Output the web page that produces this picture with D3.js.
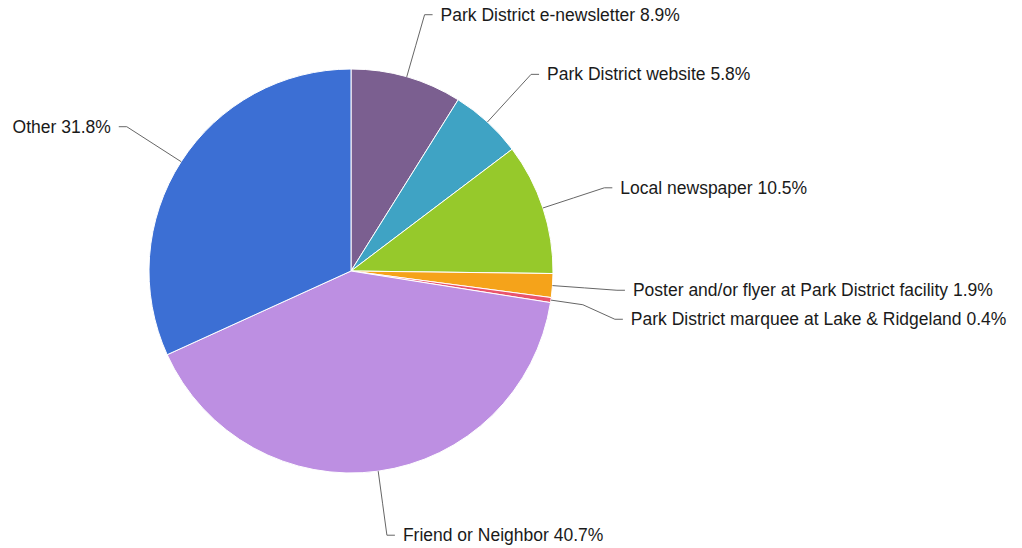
<!DOCTYPE html>
<html>
<head>
<meta charset="utf-8">
<style>
  body { margin: 0; background: #fff; }
  text { font-family: "Liberation Sans", Arial, Helvetica, sans-serif; }
</style>
</head>
<body>
<svg width="1022" height="548"></svg>
<script src="https://d3js.org/d3.v7.min.js"></script>
<script>
// data
const categories = [
  "Park District e-newsletter",
  "Park District website",
  "Local newspaper",
  "Poster and/or flyer at Park District facility",
  "Park District marquee at Lake & Ridgeland",
  "Friend or Neighbor",
  "Other"
];
const shares = [8.9, 5.8, 10.5, 1.9, 0.4, 40.7, 31.8];
const colors = ["#7b5f90", "#3fa3c4", "#96c92b", "#f5a31a", "#e9546c", "#bd8fe2", "#3c6fd4"];

const svg = d3.select("svg"),
    cx = 351, cy = 271, r = 202;

const data = categories.map((c, i) => ({name: c, value: shares[i], color: colors[i]}));

const pie = d3.pie().sort(null).value(d => d.value);
const arc = d3.arc().innerRadius(0).outerRadius(r);
const arcs = pie(data);

const g = svg.append("g").attr("transform", "translate(" + cx + "," + cy + ")");

g.selectAll("path.slice")
  .data(arcs)
  .enter()
  .append("path")
  .attr("class", "slice")
  .attr("d", arc)
  .attr("fill", d => d.data.color)
  .attr("stroke", "#fff")
  .attr("stroke-width", 1);

// label positions
const labels = arcs.map(d => {
  const a = (d.startAngle + d.endAngle) / 2;
  const pt = k => [Math.sin(a) * r * k, -Math.cos(a) * r * k];
  return {d: d, a: a, edge: pt(1), mid: pt(1.16), elbow: pt(1.32), right: Math.sin(a) >= 0};
});

// push overlapping labels apart on each side
[true, false].forEach(side => {
  const s = labels.filter(l => l.right === side).sort((p, q) => p.elbow[1] - q.elbow[1]);
  for (let i = 1; i < s.length; i++) {
    if (s[i].elbow[1] - s[i - 1].elbow[1] < 29) s[i].elbow[1] = s[i - 1].elbow[1] + 29;
  }
});

labels.forEach(l => {
  const dir = l.right ? 1 : -1;
  const end = [l.elbow[0] + dir * 8, l.elbow[1]];
  g.append("path")
    .attr("d", d3.line()([l.edge, l.mid, l.elbow, end]))
    .attr("fill", "none")
    .attr("stroke", "#666")
    .attr("stroke-width", 1);
  g.append("text")
    .attr("x", end[0] + dir * 8)
    .attr("y", end[1])
    .attr("dy", "0.35em")
    .attr("text-anchor", l.right ? "start" : "end")
    .attr("font-size", 17.5)
    .attr("fill", "#1a1a1a")
    .text(l.d.data.name + " " + l.d.data.value.toFixed(1) + "%");
});
</script>
</body>
</html>
